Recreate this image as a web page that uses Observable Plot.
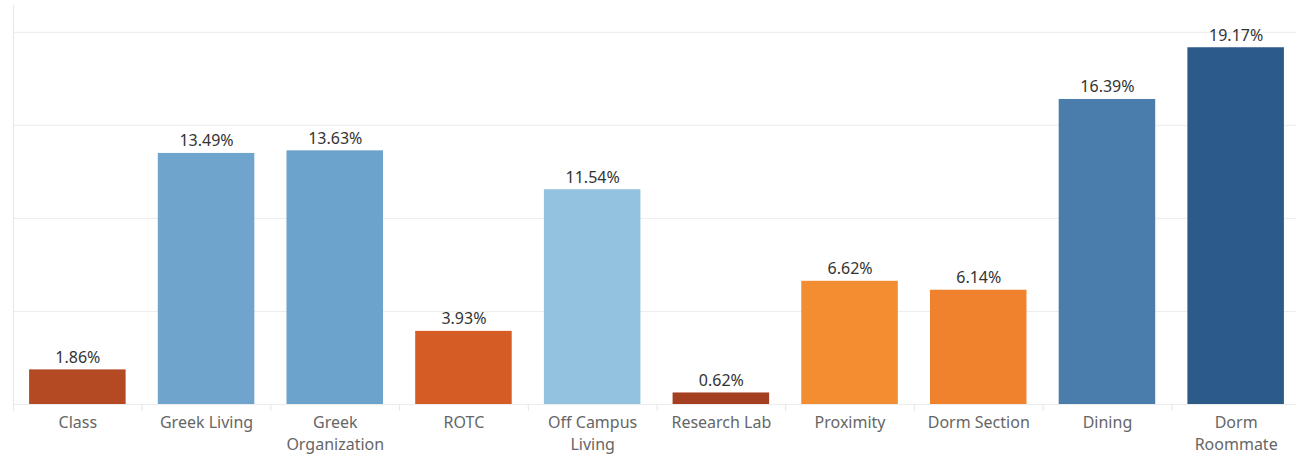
<!DOCTYPE html>
<html>
<head>
<meta charset="utf-8">
<script src="https://cdn.jsdelivr.net/npm/d3@7"></script>
<script src="https://cdn.jsdelivr.net/npm/@observablehq/plot@0.6"></script>
<style>
  html, body { margin: 0; padding: 0; background: #fff; }
  #chart svg { display: block; }
</style>
</head>
<body>
<div id="chart"></div>
<script>
const categories = ["Class", "Greek Living", "Greek Organization", "ROTC", "Off Campus Living", "Research Lab", "Proximity", "Dorm Section", "Dining", "Dorm Roommate"];
const values = [1.86, 13.49, 13.63, 3.93, 11.54, 0.62, 6.62, 6.14, 16.39, 19.17];
const tickLabels = ["Class", "Greek Living", "Greek\nOrganization", "ROTC", "Off Campus\nLiving", "Research Lab", "Proximity", "Dorm Section", "Dining", "Dorm\nRoommate"];
const colors = ["#b34a23", "#6fa5cd", "#6ca3cc", "#d65c25", "#93c2df", "#a43f22", "#f38d32", "#f0822d", "#4a7dab", "#2c5b8a"];
const gridValues = [5, 10, 15, 20];

const data = categories.map((c, i) => ({category: c, value: values[i], color: colors[i]}));
const labelOf = new Map(categories.map((c, i) => [c, tickLabels[i]]));

const W = 1296, H = 462, mL = 13, mR = -4, mT = 5, mB = 58;
const step = (W - mL - mR) / categories.length;

const chart = Plot.plot({
  width: W,
  height: H,
  marginLeft: mL,
  marginRight: mR,
  marginTop: mT,
  marginBottom: mB,
  style: {fontFamily: "'Noto Sans', sans-serif", background: "#fff"},
  x: {domain: categories, paddingInner: 0.25, paddingOuter: 0.125, align: 0.5, round: false, axis: null},
  y: {domain: [0, 21.44], axis: null},
  marks: [
    Plot.ruleY(gridValues, {stroke: "#ececec", strokeWidth: 1}),
    Plot.ruleY([0], {stroke: "#ececec", strokeWidth: 1}),
    Plot.ruleX(categories, {x: d => d, dx: -step / 2, stroke: "#e6e6e6", insetTop: 399, insetBottom: -7}),
    Plot.ruleX([categories[0]], {x: d => d, dx: -step / 2, stroke: "#e6e6e6", insetBottom: -7}),
    Plot.barY(data, {x: "category", y: "value", fill: "color"}),
    Plot.text(data, {x: "category", y: "value", text: d => d.value.toFixed(2) + "%", lineAnchor: "bottom", dy: -7, fill: "#333", fontSize: 16}),
    Plot.axisX({tickSize: 0, tickPadding: 8, tickFormat: d => labelOf.get(d), fontSize: 16, color: "#666", lineHeight: 1.36, textAnchor: "middle", label: null})
  ]
});
document.getElementById("chart").appendChild(chart);
</script>
</body>
</html>
